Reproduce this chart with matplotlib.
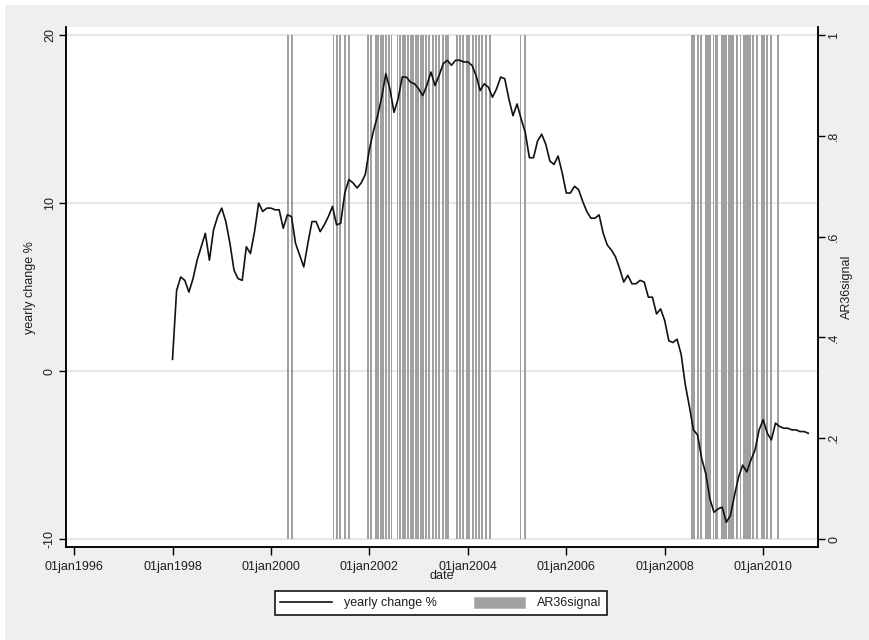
import numpy as np
import matplotlib
matplotlib.use('Agg')
import matplotlib.pyplot as plt
from matplotlib.patches import Rectangle, Patch
from matplotlib.lines import Line2D

plt.rcParams['font.family'] = ['Liberation Sans', 'DejaVu Sans']

# yearly change %, monthly from jan1998 to dec2010 (one row per year)
yearly_change = [
    0.7, 4.8, 5.6, 5.4, 4.7, 5.5, 6.6, 7.4, 8.2, 6.6, 8.4, 9.2,
    9.7, 8.9, 7.6, 6.0, 5.5, 5.4, 7.4, 7.0, 8.3, 10.0, 9.5, 9.7,
    9.7, 9.6, 9.6, 8.5, 9.3, 9.2, 7.6, 6.9, 6.2, 7.6, 8.9, 8.9,
    8.3, 8.7, 9.2, 9.8, 8.7, 8.8, 10.6, 11.4, 11.2, 10.9, 11.2, 11.7,
    13.2, 14.3, 15.2, 16.3, 17.7, 16.8, 15.4, 16.2, 17.5, 17.5, 17.2, 17.1,
    16.8, 16.4, 17.0, 17.8, 17.0, 17.6, 18.3, 18.5, 18.2, 18.5, 18.5, 18.4,
    18.4, 18.2, 17.6, 16.7, 17.1, 16.9, 16.3, 16.8, 17.5, 17.4, 16.2, 15.2,
    15.9, 15.0, 14.2, 12.7, 12.7, 13.7, 14.1, 13.5, 12.5, 12.3, 12.8, 11.8,
    10.6, 10.6, 11.0, 10.8, 10.1, 9.5, 9.1, 9.1, 9.3, 8.2, 7.5, 7.2,
    6.8, 6.1, 5.3, 5.7, 5.2, 5.2, 5.4, 5.3, 4.4, 4.4, 3.4, 3.7,
    3.0, 1.8, 1.7, 1.9, 1.0, -0.8, -2.1, -3.5, -3.8, -5.2, -6.1, -7.6,
    -8.4, -8.2, -8.1, -9.0, -8.6, -7.4, -6.3, -5.6, -6.0, -5.3, -4.7, -3.5,
    -2.9, -3.7, -4.1, -3.1, -3.3, -3.4, -3.4, -3.5, -3.5, -3.6, -3.6, -3.7,
]
start_year = 1998

# dates (decimal years) where AR36signal = 1
signal_dates = [
    2000.35, 2000.42,
    2001.27, 2001.34, 2001.41, 2001.51, 2001.58,
    2001.98, 2002.03, 2002.13, 2002.18, 2002.23, 2002.28, 2002.34, 2002.40,
    2002.45, 2002.57, 2002.62, 2002.68, 2002.73, 2002.78, 2002.84, 2002.89,
    2002.95, 2002.99, 2003.05, 2003.09, 2003.15, 2003.21, 2003.30, 2003.35,
    2003.41, 2003.49, 2003.55, 2003.60, 2003.78, 2003.84, 2003.91, 2003.98,
    2004.03, 2004.10, 2004.16, 2004.23, 2004.29, 2004.36, 2004.45,
    2005.07, 2005.16,
    2008.56, 2008.60, 2008.67, 2008.73, 2008.83, 2008.87, 2008.92, 2008.99,
    2009.03, 2009.07, 2009.17, 2009.21, 2009.25, 2009.30, 2009.34, 2009.39,
    2009.47, 2009.54, 2009.61, 2009.65, 2009.70, 2009.74, 2009.80, 2009.88,
    2009.97, 2010.01, 2010.07, 2010.15, 2010.30,
]

x_ticks = [1996, 1998, 2000, 2002, 2004, 2006, 2008, 2010]
x_ticklabels = ['01jan1996', '01jan1998', '01jan2000', '01jan2002',
                '01jan2004', '01jan2006', '01jan2008', '01jan2010']
left_ticks = [-10, 0, 10, 20]
right_ticks = [0, 0.2, 0.4, 0.6, 0.8, 1]
right_ticklabels = ['0', '.2', '.4', '.6', '.8', '1']

bg = '#edf0ef'
bar_col = '#a0a0a0'
txt = '#1e1e1e'

fig = plt.figure(figsize=(8.7, 6.4), dpi=100, facecolor='white')
# stata-like graph region
fig.patches.append(Rectangle((5 / 870, 0), 1, 1 - 5 / 640, transform=fig.transFigure,
                             facecolor=bg, edgecolor='none', zorder=-10))

ax2 = fig.add_axes([0.0755, 0.1448, 0.8651, 0.813])
ax = ax2.twinx()
ax.yaxis.tick_left()
ax.yaxis.set_label_position('left')
ax2.yaxis.tick_right()
ax2.yaxis.set_label_position('right')
ax.set_zorder(ax2.get_zorder() + 1)
ax.patch.set_visible(False)
ax2.set_facecolor('white')

# gridlines at left-axis ticks (drawn on the bar axis so bars sit over them)
for v in left_ticks:
    ax2.axhline((v + 10) / 30, color='#e4e6e5', lw=1.3, zorder=0)

ax2.bar(signal_dates, np.ones(len(signal_dates)), width=0.038, color=bar_col,
        linewidth=0, zorder=1)

months = start_year + np.arange(len(yearly_change)) / 12
ax.plot(months, yearly_change, color='#111111', lw=1.2)

xmin, xmax = 1995.83, 2011.12
ax.set_xlim(xmin, xmax)
ax2.set_xlim(xmin, xmax)
ax.set_ylim(-10.49, 20.48)
ax2.set_ylim(-0.0165, 1.016)

ax2.set_xticks(x_ticks)
ax2.set_xticklabels(x_ticklabels, fontsize=9, color=txt)
ax.set_yticks(left_ticks)
ax.set_yticklabels([str(t) for t in left_ticks], fontsize=9, color=txt,
                   rotation=90, va='center')
ax2.set_yticks(right_ticks)
ax2.set_yticklabels(right_ticklabels, fontsize=9, color=txt, rotation=90, va='center')

ax.tick_params(axis='y', length=5, width=1, pad=2)
ax2.tick_params(axis='y', length=5, width=1, pad=2)
ax2.tick_params(axis='x', length=6, width=1, pad=3.5)
ax.tick_params(axis='x', bottom=False, labelbottom=False)

ax.set_ylabel('yearly change %', fontsize=9, color=txt, labelpad=6)
ax2.set_ylabel('AR36signal', fontsize=9, color=txt, labelpad=1)
ax2.set_xlabel('date', fontsize=9, color=txt, labelpad=-1.5)

for a in (ax, ax2):
    a.spines['top'].set_visible(False)
    for s in ('left', 'right', 'bottom'):
        a.spines[s].set_linewidth(1.1)
        a.spines[s].set_color('black')

handles = [Line2D([], [], color='#111111', lw=1.2),
           Patch(facecolor=bar_col, edgecolor='#b8b8b8', lw=0.6)]
leg = fig.legend(handles, ['yearly change %', 'AR36signal'], ncol=2,
                 loc='center', bbox_to_anchor=(441 / 870, 1 - 603 / 640),
                 fontsize=9, handlelength=4.1, handleheight=1.0, handletextpad=0.95,
                 columnspacing=3.0, borderpad=0.45, fancybox=False, framealpha=1,
                 edgecolor='black')
leg.get_frame().set_linewidth(1.1)
for t in leg.get_texts():
    t.set_color(txt)

plt.savefig('out.png', dpi=100, facecolor=fig.get_facecolor())
